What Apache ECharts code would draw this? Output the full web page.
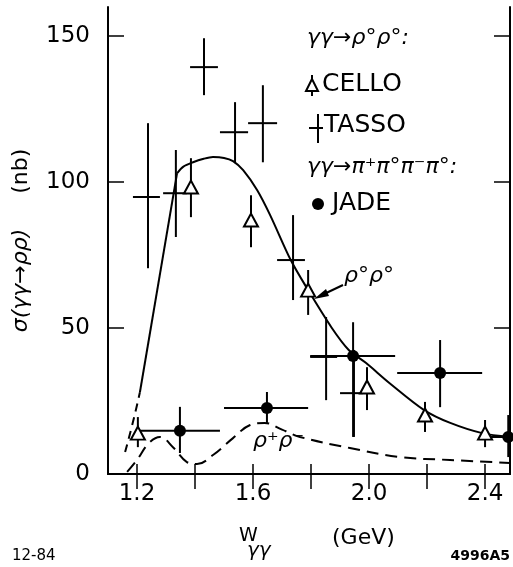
<!DOCTYPE html>
<html>
<head>
<meta charset="utf-8">
<script src="https://cdn.jsdelivr.net/npm/echarts@6/dist/echarts.min.js"></script>
<style>
  html, body { margin: 0; padding: 0; background: #fff; }
  #chart { width: 513px; height: 567px; }
</style>
</head>
<body>
<div id="chart"></div>
<script>
// [x, y, xLow, xHigh, yLow, yHigh]  (null = no horizontal error)
const tassoPoints = [
  [1.238, 94.9, 1.186, 1.279, 70.5, 120.2],
  [1.334, 96.2, 1.290, 1.372, 81.2, 111.0],
  [1.431, 139.4, 1.383, 1.479, 129.8, 149.3],
  [1.538, 117.1, 1.486, 1.583, 106.5, 127.4],
  [1.634, 120.2, 1.583, 1.683, 106.8, 133.2],
  [1.738, 73.3, 1.683, 1.779, 59.6, 88.7],
  [1.852, 40.1, 1.797, 1.890, 25.3, 53.8],
  [1.948, 27.7, 1.900, 1.979, 12.7, 42.5]
]
const celloPoints = [
  [1.203, 14.0, null, null, 9.2, 19.5],
  [1.386, 98.3, null, null, 88.0, 108.2],
  [1.593, 87.0, null, null, 77.7, 95.5],
  [1.790, 63.0, null, null, 54.5, 69.9],
  [1.993, 29.8, null, null, 21.9, 36.6],
  [2.193, 20.2, null, null, 14.4, 24.7],
  [2.400, 14.0, null, null, 9.2, 18.5]
]
const jadePoints = [
  [1.348, 14.8, 1.210, 1.486, 7.2, 23.0],
  [1.648, 22.6, 1.500, 1.790, 17.5, 28.1],
  [1.945, 40.4, 1.797, 2.090, 12.7, 52.0],
  [2.245, 34.6, 2.097, 2.390, 22.9, 45.9],
  [2.480, 12.7, 2.393, 2.560, 5.8, 20.2]
]
// rho0 rho0 fit: straight rise, then rounded fall
const rho0Rise = [[1.21, 28], [1.338, 103]]
const rho0Fall = [
  [1.338, 103], [1.36, 105.3], [1.393, 106.8], [1.43, 108], [1.462, 108.6], [1.5, 108.3],
  [1.531, 107.2], [1.566, 104.1], [1.614, 97.3], [1.659, 88.7], [1.73, 73.3], [1.79, 63],
  [1.87, 50.3], [1.93, 42.5], [1.99, 38], [2.07, 31.2], [2.19, 21.9], [2.28, 17.5],
  [2.39, 14], [2.486, 12.7]
]
const rho0Extension = [[1.159, 7.5], [1.186, 17.8], [1.21, 28]]
// rho+ rho- curve
const rhoPMCurve = [
  [1.166, 0.7], [1.2, 4.8], [1.24, 10.5], [1.279, 12.7], [1.324, 9.2], [1.372, 4.1],
  [1.407, 3.4], [1.462, 6.5], [1.531, 12.3], [1.59, 16.8], [1.64, 17.5], [1.7, 15.2],
  [1.762, 12.7], [1.934, 8.9], [2.107, 5.8], [2.279, 4.8], [2.486, 3.8]
]
const xTickValues = [1.2, 1.4, 1.6, 1.8, 2.0, 2.2, 2.4]
const xLabelValues = [1.2, 1.6, 2.0, 2.4]
const yTickValues = [0, 50, 100, 150]

const chart = echarts.init(document.getElementById('chart'))

const errorBars = (params, api) => {
  const x = api.value(0), y = api.value(1)
  const xlo = api.value(2), xhi = api.value(3)
  const ylo = api.value(4), yhi = api.value(5)
  const style = { stroke: '#000', lineWidth: 2 }
  const children = []
  if (!isNaN(xlo) && !isNaN(xhi)) {
    const a = api.coord([xlo, y]), b = api.coord([xhi, y])
    children.push({ type: 'line', shape: { x1: a[0], y1: a[1], x2: b[0], y2: b[1] }, style })
  }
  const c = api.coord([x, ylo]), d = api.coord([x, yhi])
  children.push({ type: 'line', shape: { x1: c[0], y1: c[1], x2: d[0], y2: d[1] }, style })
  return { type: 'group', children }
}

const font = 'DejaVu Sans'
const axisLineStyle = { color: '#000', width: 2 }
const tickStyle = { color: '#000', width: 1.5 }
const curveStyle = { color: '#000', width: 2 }

const option = {
  backgroundColor: '#fff',
  animation: false,
  grid: { left: 108, top: 7, right: 3, bottom: 93 },
  xAxis: [
    {
      type: 'value', min: 1.1, max: 2.486, position: 'bottom',
      axisLine: { lineStyle: axisLineStyle },
      axisTick: { inside: true, length: 10, customValues: xTickValues, lineStyle: tickStyle },
      axisLabel: { customValues: xLabelValues, margin: 9, fontFamily: font, fontSize: 23, color: '#000',
        formatter: (v) => v.toFixed(1) },
      splitLine: { show: false }
    },
    {
      type: 'value', min: 1.1, max: 2.486, position: 'top',
      axisLine: { lineStyle: axisLineStyle },
      axisTick: { inside: true, length: 15, customValues: xTickValues, lineStyle: tickStyle },
      axisLabel: { show: false },
      splitLine: { show: false }
    }
  ],
  yAxis: [
    {
      type: 'value', min: 0, max: 160, position: 'left',
      axisLine: { show: true, lineStyle: axisLineStyle },
      axisTick: { show: true, inside: true, length: 16, customValues: yTickValues, lineStyle: tickStyle },
      axisLabel: { customValues: yTickValues, margin: 18, fontFamily: font, fontSize: 23, color: '#000' },
      splitLine: { show: false },
      name: '{g|σ(γγ→ρρ)}     (nb)',
      nameLocation: 'middle', nameRotate: 90, nameGap: 76,
      nameTextStyle: { fontFamily: font, fontSize: 22, color: '#000',
        rich: { g: { fontFamily: font, fontSize: 22, fontStyle: 'italic', color: '#000' } } }
    },
    {
      type: 'value', min: 0, max: 160, position: 'right',
      axisLine: { show: true, lineStyle: axisLineStyle },
      axisTick: { show: true, inside: true, length: 16, customValues: yTickValues, lineStyle: tickStyle },
      axisLabel: { show: false },
      splitLine: { show: false }
    }
  ],
  series: [
    { type: 'line', data: rho0Rise, showSymbol: false, lineStyle: curveStyle, z: 2 },
    { type: 'line', data: rho0Fall, smooth: 0.3, showSymbol: false, lineStyle: curveStyle, z: 2 },
    {
      type: 'line', data: rho0Extension, smooth: true, showSymbol: false,
      lineStyle: { ...curveStyle, type: [8, 6] }, z: 2
    },
    {
      type: 'line', data: rhoPMCurve, smooth: 0.4, showSymbol: false,
      lineStyle: { ...curveStyle, type: [12, 7] }, z: 2
    },
    { type: 'custom', data: tassoPoints, renderItem: errorBars, clip: true, z: 3 },
    { type: 'custom', data: jadePoints, renderItem: errorBars, clip: true, z: 3 },
    { type: 'custom', data: celloPoints, renderItem: errorBars, clip: true, z: 3 },
    {
      type: 'scatter', data: celloPoints.map((p) => [p[0], p[1]]),
      symbol: 'triangle', symbolSize: [14, 13],
      itemStyle: { color: '#fff', borderColor: '#000', borderWidth: 2, opacity: 1 }, z: 4
    },
    {
      type: 'scatter', data: jadePoints.map((p) => [p[0], p[1]]),
      symbol: 'circle', symbolSize: 12,
      itemStyle: { color: '#000', opacity: 1 }, z: 4
    }
  ],
  graphic: [
    // legend
    { type: 'text', left: 307, top: 27, style: { text: 'γγ→ρ°ρ°:', font: 'italic 22px "DejaVu Sans"', fill: '#000' } },
    { type: 'line', shape: { x1: 312, y1: 75, x2: 312, y2: 96 }, style: { stroke: '#000', lineWidth: 2 } },
    { type: 'polygon', shape: { points: [[312, 79], [306, 91], [318, 91]] }, style: { fill: '#fff', stroke: '#000', lineWidth: 2 } },
    { type: 'text', left: 322, top: 72, style: { text: 'CELLO', font: '25px "DejaVu Sans"', fill: '#000' } },
    { type: 'line', shape: { x1: 318, y1: 114, x2: 318, y2: 143 }, style: { stroke: '#000', lineWidth: 2 } },
    { type: 'line', shape: { x1: 309, y1: 128, x2: 323, y2: 128 }, style: { stroke: '#000', lineWidth: 2 } },
    { type: 'text', left: 324, top: 113, style: { text: 'TASSO', font: '25px "DejaVu Sans"', fill: '#000' } },
    { type: 'text', left: 307, top: 156, style: { text: 'γγ→π⁺π°π⁻π°:', font: 'italic 22px "DejaVu Sans"', fill: '#000' } },
    { type: 'circle', shape: { cx: 318, cy: 204, r: 6 }, style: { fill: '#000' } },
    { type: 'text', left: 332, top: 191, style: { text: 'JADE', font: '25px "DejaVu Sans"', fill: '#000' } },
    // curve labels
    { type: 'text', left: 344, top: 265, style: { text: 'ρ°ρ°', font: 'italic 22px "DejaVu Sans"', fill: '#000' } },
    { type: 'line', shape: { x1: 343, y1: 285, x2: 322, y2: 295 }, style: { stroke: '#000', lineWidth: 2 } },
    { type: 'polygon', shape: { points: [[314, 299], [326, 289], [329, 296]] }, style: { fill: '#000' } },
    { type: 'text', left: 253, top: 430, style: { text: 'ρ⁺ρ⁻', font: 'italic 22px "DejaVu Sans"', fill: '#000' } },
    // x axis title
    { type: 'text', left: 239, top: 527, style: { text: 'W', font: '19px "DejaVu Sans"', fill: '#000' } },
    { type: 'text', left: 247, top: 541, style: { text: 'γγ', font: 'italic 20px "DejaVu Sans"', fill: '#000' } },
    { type: 'text', left: 332, top: 527, style: { text: '(GeV)', font: '22px "DejaVu Sans"', fill: '#000' } },
    // figure ids
    { type: 'text', left: 12, top: 549, style: { text: '12-84', font: '15px "DejaVu Sans"', fill: '#000' } },
    { type: 'text', right: 3, top: 549, style: { text: '4996A5', font: 'bold 14px "DejaVu Sans"', fill: '#000' } }
  ]
}

chart.setOption(option)
</script>
</body>
</html>
